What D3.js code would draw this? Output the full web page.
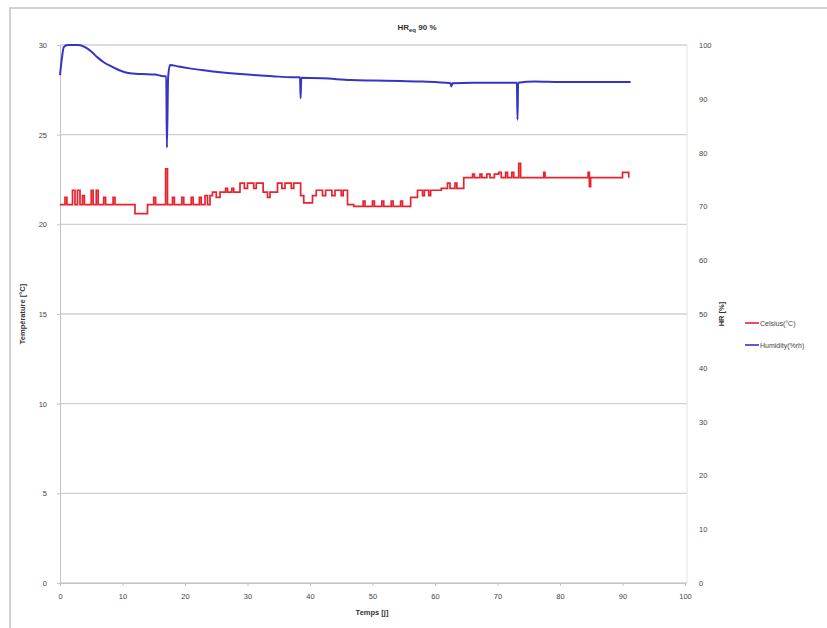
<!DOCTYPE html>
<meta charset="utf-8">
<style>
  body { margin: 0; background: #fff; }
  text { font-family: "Liberation Sans", Arial, sans-serif; }
</style>
<script src="https://d3js.org/d3.v7.min.js"></script>
<div id="chart"></div>
<script>

// data
var tempDays = [0, 0.8, 1.1, 2.0, 2.4, 2.8, 3.2, 3.6, 3.9, 5.0, 5.3, 5.8, 6.1, 7.0, 7.3, 8.5, 8.8,
  12.0, 14.0, 15.0, 15.3, 16.9, 17.2, 18.0, 18.3, 19.5, 19.8, 21.0, 21.3, 22.3, 22.6,
  23.2, 23.6, 24.0, 24.4, 25.0, 25.6, 26.5, 26.8, 27.5, 27.8,
  28.8, 29.5, 30.0, 31.0, 31.4, 32.5, 33.2, 33.6, 34.8, 35.5, 36.0, 37.0, 37.4,
  38.5, 39.0, 40.4, 41.0, 42.0, 42.5, 43.5, 44.0, 45.0, 45.3, 46.0,
  47.0, 48.5, 48.8, 50.0, 50.3, 51.5, 51.8, 53.0, 53.3, 54.5, 54.8, 56.1,
  57.2, 58.0, 58.3, 59.0, 59.3, 61.0, 62.0, 62.4, 63.2, 63.5,
  64.6, 66.0, 66.3, 67.2, 67.5, 68.3, 68.8, 69.5, 70.2, 70.6, 71.3, 71.6, 72.3, 72.6,
  73.4, 73.7, 77.4, 77.6, 84.5, 84.7, 84.9, 90.0, 91.0];
var tempValues = [21.1, 21.5, 21.1, 21.9, 21.1, 21.9, 21.1, 21.6, 21.1, 21.9, 21.1, 21.9, 21.1, 21.5, 21.1, 21.5, 21.1,
  20.6, 21.1, 21.5, 21.1, 23.1, 21.1, 21.5, 21.1, 21.5, 21.1, 21.5, 21.1, 21.5, 21.1,
  21.6, 21.1, 21.6, 21.8, 21.5, 21.8, 22.0, 21.8, 22.0, 21.8,
  22.3, 22.0, 22.3, 22.0, 22.3, 21.8, 21.5, 21.8, 22.3, 22.0, 22.3, 22.0, 22.3,
  21.6, 21.2, 21.6, 21.9, 21.6, 21.9, 21.6, 21.9, 21.6, 21.9, 21.1,
  21.0, 21.3, 21.0, 21.3, 21.0, 21.3, 21.0, 21.3, 21.0, 21.3, 21.0, 21.5,
  21.9, 21.6, 21.9, 21.6, 21.9, 22.0, 22.3, 22.0, 22.3, 22.0,
  22.6, 22.8, 22.6, 22.8, 22.6, 22.8, 22.6, 22.8, 22.9, 22.6, 22.9, 22.6, 22.9, 22.6,
  23.4, 22.6, 22.9, 22.6, 22.9, 22.1, 22.6, 22.9, 22.6];

var humDays = [0, 0.3, 0.6, 1.2, 3.0, 4.0, 5.0, 6.0, 7.0, 8.3, 9.5, 10.9, 13, 15.2, 16.6, 17.0, 17.1, 17.3, 17.6,
  19, 20.5, 23, 26, 30, 34, 37, 38.4, 38.5, 38.6, 42, 46.5, 50, 54.5, 58, 62.5, 62.6, 62.8,
  66, 70, 73.1, 73.2, 73.3, 76, 80, 91.3];
var humValues = [94.4, 97.5, 99.6, 100, 100, 99.6, 98.8, 97.7, 96.8, 96.0, 95.3, 94.8, 94.6, 94.5, 94.2, 94.2, 80.9, 94.0, 96.3,
  96.0, 95.7, 95.3, 94.9, 94.5, 94.2, 94.0, 94.0, 90.1, 93.9, 93.8, 93.5, 93.4, 93.3, 93.2, 92.9, 92.3, 92.9,
  93.0, 93.0, 93.0, 86.1, 93.0, 93.2, 93.1, 93.1];

var xTicks = [0, 10, 20, 30, 40, 50, 60, 70, 80, 90, 100];
var tempTicks = [0, 5, 10, 15, 20, 25, 30];
var humTicks = [0, 10, 20, 30, 40, 50, 60, 70, 80, 90, 100];

var W = 827, H = 628;
var pLeft = 60, pRight = 685, pTop = 45, pBottom = 583;

var svg = d3.select("#chart").append("svg")
  .attr("width", W).attr("height", H);

// chart frame
svg.append("rect")
  .attr("x", 10).attr("y", 8).attr("width", 840).attr("height", 640)
  .attr("fill", "#fff").attr("stroke", "#c4c4c4").attr("stroke-width", 1.5);

var x = d3.scaleLinear().domain([0, 100]).range([pLeft, pRight]);
var yT = d3.scaleLinear().domain([0, 30]).range([pBottom, pTop]);
var yH = d3.scaleLinear().domain([0, 100]).range([pBottom, pTop]);

// gridlines
svg.append("g")
  .selectAll("line")
  .data(tempTicks)
  .enter().append("line")
    .attr("x1", pLeft).attr("x2", pRight + 2)
    .attr("y1", function(d) { return yT(d); })
    .attr("y2", function(d) { return yT(d); })
    .attr("stroke", "#d0d0d0").attr("stroke-width", 1.3);

// plot right border
svg.append("line")
  .attr("x1", pRight + 2).attr("x2", pRight + 2).attr("y1", pTop).attr("y2", pBottom)
  .attr("stroke", "#e2e2e2");

// left axis
var gl = svg.append("g")
  .attr("transform", "translate(" + pLeft + ",0)")
  .call(d3.axisLeft(yT).tickValues(tempTicks).tickSize(3).tickPadding(10));

// right axis
var gr = svg.append("g")
  .attr("transform", "translate(" + (pRight + 2) + ",0)")
  .call(d3.axisRight(yH).tickValues(humTicks).tickSize(0).tickPadding(12));

// bottom axis
var gb = svg.append("g")
  .attr("transform", "translate(0," + pBottom + ")")
  .call(d3.axisBottom(x).tickValues(xTicks).tickSize(3).tickPadding(8));

[gl, gr, gb].forEach(function(g) {
  g.selectAll("path").attr("stroke", "#c4c4c4");
  g.selectAll("line").attr("stroke", "#c4c4c4");
  g.selectAll("text").attr("fill", "#444").style("font-size", "7.5px")
    .style("font-family", "'Liberation Sans', Arial, sans-serif");
});
gr.select("path").attr("stroke", "none");

// temperature line (red)
var tempData = tempDays.map(function(d, i) { return [d, tempValues[i]]; });
svg.append("path")
  .datum(tempData)
  .attr("fill", "none")
  .attr("stroke", "#e8232f")
  .attr("stroke-width", 1.7)
  .attr("d", d3.line()
    .curve(d3.curveStepAfter)
    .x(function(d) { return x(d[0]); })
    .y(function(d) { return yT(d[1]); }));

// humidity line (blue)
var humData = humDays.map(function(d, i) { return [d, humValues[i]]; });
svg.append("path")
  .datum(humData)
  .attr("fill", "none")
  .attr("stroke", "#3434c8")
  .attr("stroke-width", 2)
  .attr("d", d3.line()
    .curve(d3.curveMonotoneX)
    .x(function(d) { return x(d[0]); })
    .y(function(d) { return yH(d[1]); }));

// title
var title = svg.append("text")
  .attr("x", 417).attr("y", 30)
  .attr("text-anchor", "middle")
  .style("font-size", "8px").style("font-weight", "bold").attr("fill", "#333");
title.append("tspan").text("HR");
title.append("tspan").attr("dy", 2).style("font-size", "6px").text("eq");
title.append("tspan").attr("dy", -2).text(" 90 %");

// axis titles
svg.append("text")
  .attr("transform", "translate(25," + ((pTop + pBottom) / 2) + ") rotate(-90)")
  .attr("text-anchor", "middle")
  .style("font-size", "7.5px").style("font-weight", "bold").attr("fill", "#333")
  .text("Température [°C]");

svg.append("text")
  .attr("transform", "translate(724," + ((pTop + pBottom) / 2) + ") rotate(-90)")
  .attr("text-anchor", "middle")
  .style("font-size", "7.5px").style("font-weight", "bold").attr("fill", "#333")
  .text("HR [%]");

svg.append("text")
  .attr("x", 372).attr("y", 615)
  .attr("text-anchor", "middle")
  .style("font-size", "7.5px").style("font-weight", "bold").attr("fill", "#333")
  .text("Temps [j]");

// legend
var legend = [
  {name: "Celsius(°C)", color: "#e8232f", y: 323},
  {name: "Humidity(%rh)", color: "#3434c8", y: 345}
];
var lg = svg.append("g");
lg.selectAll("line")
  .data(legend).enter().append("line")
    .attr("x1", 745).attr("x2", 759)
    .attr("y1", function(d) { return d.y; }).attr("y2", function(d) { return d.y; })
    .attr("stroke", function(d) { return d.color; }).attr("stroke-width", 1.6);
lg.selectAll("text")
  .data(legend).enter().append("text")
    .attr("x", 760).attr("y", function(d) { return d.y + 2.5; })
    .style("font-size", "7px").attr("fill", "#444")
    .text(function(d) { return d.name; });

</script>
